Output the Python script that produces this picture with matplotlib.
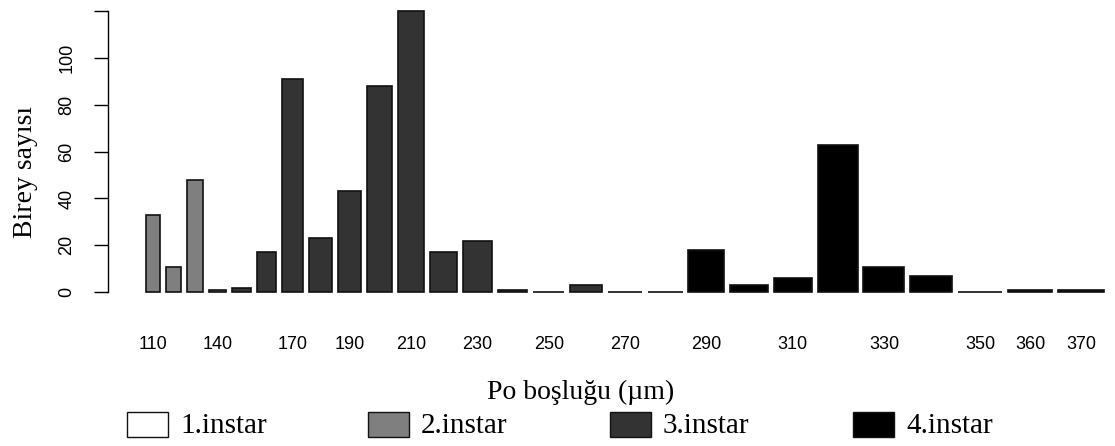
import matplotlib.pyplot as plt
from matplotlib.patches import Rectangle
import numpy as np

# po boşluğu sınıfları (µm) ve her sınıftaki birey sayısı
bosluk = [110, 120, 130, 140, 150, 160, 170, 180, 190, 200, 210, 220, 230, 240,
          250, 260, 270, 280, 290, 300, 310, 320, 330, 340, 350, 360, 370]
birey = [33, 11, 48, 1, 2, 17, 91, 23, 43, 88, 120, 17, 22, 1,
         0, 3, 0, 0, 18, 3, 6, 63, 11, 7, 0, 1, 1]
instar = [2, 2, 2, 2, 3, 3, 3, 3, 3, 3, 3, 3, 3, 3,
          3, 3, 3, 3, 4, 4, 4, 4, 4, 4, 4, 4, 4]
etiketler = [110, 140, 170, 190, 210, 230, 250, 270, 290, 310, 330, 350, 360, 370]

instar_adlari = ['1.instar', '2.instar', '3.instar', '4.instar']
renkler = {1: 'white', 2: '#7f7f7f', 3: '#333333', 4: 'black'}

W, H = 1115, 446
serif = 'Liberation Serif'
sans = 'Liberation Sans'


def px(x, y):
    # piksel -> figür oranı
    return x / W, 1 - y / H


# barplot(width = bosluk, space = 0.2) gibi: genişlik sınıf değerine orantılı
w = np.array(bosluk, dtype=float)
bosluk_pay = 0.2 * w.mean()
sag = np.cumsum(w + bosluk_pay)
orta = sag - w / 2
sol = sag - w

x_lo, x_hi = sol.min(), sag.max()
pad = 0.04 * (x_hi - x_lo)
xlim = (x_lo - pad, x_hi + pad)
ylim = (-0.04 * max(birey), max(birey) * 1.04)

fig = plt.figure(figsize=(W / 100, H / 100), dpi=100)
ax_l, ax_t, ax_b = 108, -0.5, 303.6
px_per_unit = 0.12395
ax_w = (xlim[1] - xlim[0]) * px_per_unit
ax = fig.add_axes([ax_l / W, 1 - ax_b / H, ax_w / W, (ax_b - ax_t) / H])

ax.bar(orta, birey, width=w, color=[renkler[i] for i in instar],
       edgecolor='#111111', linewidth=1.2, zorder=2)

ax.set_xlim(*xlim)
ax.set_ylim(*ylim)

for s in ['top', 'right', 'bottom']:
    ax.spines[s].set_visible(False)
ax.spines['left'].set_bounds(0, 120)
ax.spines['left'].set_linewidth(1.0)

yt = [0, 20, 40, 60, 80, 100, 120]
ax.set_yticks(yt)
ax.set_yticklabels([str(v) if v <= 100 else '' for v in yt],
                   rotation=90, va='center', fontfamily=sans, fontsize=13)
ax.tick_params(axis='y', length=9.9, width=1.0, pad=13.5)

# yalnızca seçili sınıfların etiketleri, çubuk ortalarında
idx = [bosluk.index(v) for v in etiketler]
ax.set_xticks(orta[idx])
ax.set_xticklabels([str(v) for v in etiketler], fontfamily=sans, fontsize=13)
ax.tick_params(axis='x', length=0, pad=23)

fig.text(*px(25, 172), 'Birey sayısı', rotation=90, ha='center', va='center',
         fontfamily=serif, fontsize=20)
fig.text(*px(581, 392), 'Po boşluğu (µm)', ha='center', va='center',
         fontfamily=serif, fontsize=20)

# yatay gösterge
kutu_sol = [127, 368, 610, 853]
for k, (x0, ad) in enumerate(zip(kutu_sol, instar_adlari), start=1):
    fx, fy = px(x0, 437.3)
    fig.add_artist(Rectangle((fx, fy), 41 / W, 25.6 / H, transform=fig.transFigure,
                             facecolor=renkler[k], edgecolor='#111111', linewidth=1.0))
    fig.text(*px(x0 + 53, 426), ad, ha='left', va='center',
             fontfamily=serif, fontsize=21)

fig.savefig('out.png', dpi=100)
